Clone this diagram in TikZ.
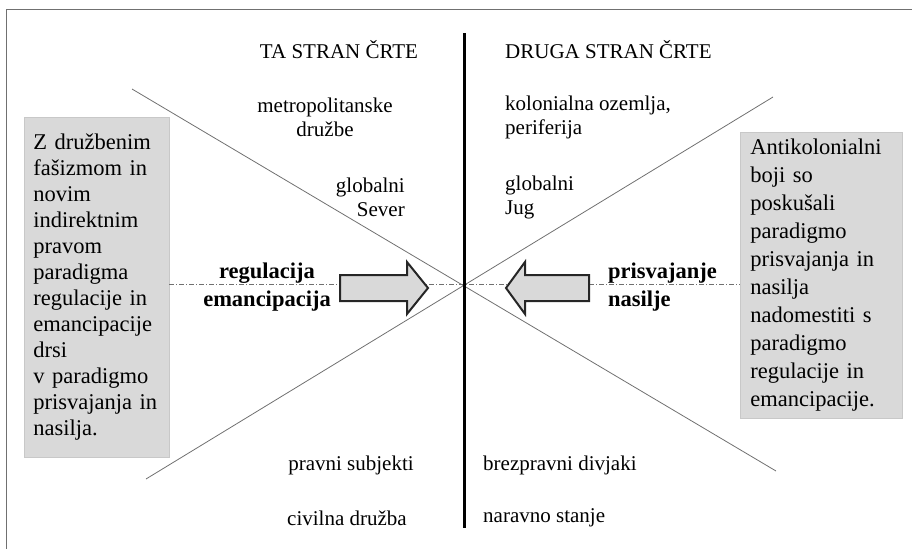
\documentclass[tikz,border=0pt]{standalone}
\usepackage{fontspec}
\setmainfont{Liberation Serif}
\definecolor{boxgray}{HTML}{D9D9D9}
\definecolor{boxedge}{HTML}{C8C8C8}
\definecolor{arrowgray}{HTML}{D9D9D9}
\definecolor{framegray}{HTML}{707070}
\definecolor{diaggray}{HTML}{707070}
\begin{document}
\begin{tikzpicture}[x=1pt,y=-1pt,
  lbl/.style={font=\fontsize{21}{24}\selectfont, inner sep=0pt},
  blbl/.style={font=\fontsize{22.5}{28}\selectfont\bfseries, inner sep=0pt},
  greybox/.style={fill=boxgray, draw=boxedge, line width=0.8pt, align=left, anchor=north west, inner ysep=0pt},
  blockarrow/.style={fill=arrowgray, draw=black!85, line width=2pt, line join=miter},
  diag/.style={draw=diaggray, line width=0.8pt},
  axisline/.style={line width=3pt},
  midline/.style={draw=diaggray, line width=0.8pt, dash pattern=on 5pt off 2pt on 1pt off 2pt},
  framestyle/.style={draw=framegray, line width=1.5pt}
]
\useasboundingbox (0,0) rectangle (912,549);
% frame (top and left only)
\coordinate (ftr) at (912,9.5);
\coordinate (ftl) at (6.5,9.5);
\coordinate (fbl) at (6.5,549);
\draw[framestyle] (ftr) -- (ftl) -- (fbl);

% grey boxes
\node[greybox, font=\fontsize{22.5}{26}\selectfont, minimum width=145pt, minimum height=340pt, text width=127pt, inner xsep=9pt] (lbox) at (24,117)
 {Z družbenim\\fašizmom in\\novim\\indirektnim\\pravom\\paradigma\\regulacije in\\emancipacije\\drsi\\v paradigmo\\prisvajanja in\\nasilja.};
\node[greybox, font=\fontsize{22.5}{28}\selectfont, minimum width=162pt, minimum height=286pt, text width=142pt, inner xsep=10pt] (rbox) at (740,132)
 {Antikolonialni\\boji so\\poskušali\\paradigmo\\prisvajanja in\\nasilja\\nadomestiti s\\paradigmo\\regulacije in\\emancipacije.};

% diagonals
\coordinate (d1a) at (132,89);
\coordinate (d1b) at (776,471);
\coordinate (d2a) at (773,97);
\coordinate (d2b) at (146,479);
\draw[diag] (d1a) -- (d1b);
\draw[diag] (d2a) -- (d2b);

% horizontal dash-dot line
\coordinate (hl) at (169,284);
\coordinate (hr) at (740,284);
\draw[midline] (hl) -- (hr);

% block arrows
\draw[blockarrow] (340,275) -- (407,275) -- (407,262) -- (428,288) -- (407,314) -- (407,301) -- (340,301) -- cycle;
\draw[blockarrow] (589,275) -- (525,275) -- (525,262) -- (506,288) -- (525,314) -- (525,301) -- (589,301) -- cycle;

% vertical axis
\coordinate (vt) at (464,33);
\coordinate (vb) at (464,528);
\draw[axisline] (vt) -- (vb);

% headings
\node[lbl] (h1) at (339,50) {TA STRAN ČRTE};
\node[lbl, anchor=west] (h2) at (505,50) {DRUGA STRAN ČRTE};

% labels
\node[lbl, align=center] (metro) at (325,117) {metropolitanske\\družbe};
\node[lbl, align=left, anchor=west] (kolon) at (505,117) {kolonialna ozemlja,\\periferija};
\node[lbl, align=right, anchor=east] (sever) at (405,197) {globalni\\Sever};
\node[lbl, align=left, anchor=west] (jug) at (505,197) {globalni\\Jug};
\node[blbl, align=center] (reg) at (267,287) {regulacija\\emancipacija};
\node[blbl, align=left, anchor=west] (pris) at (608,287) {prisvajanje\\nasilje};
\node[lbl] (pravni) at (351,465) {pravni subjekti};
\node[lbl] (civil) at (347,518) {civilna družba};
\node[lbl, anchor=west] (brez) at (483,465) {brezpravni divjaki};
\node[lbl, anchor=west] (narav) at (483,518) {naravno stanje};
\end{tikzpicture}
\end{document}
